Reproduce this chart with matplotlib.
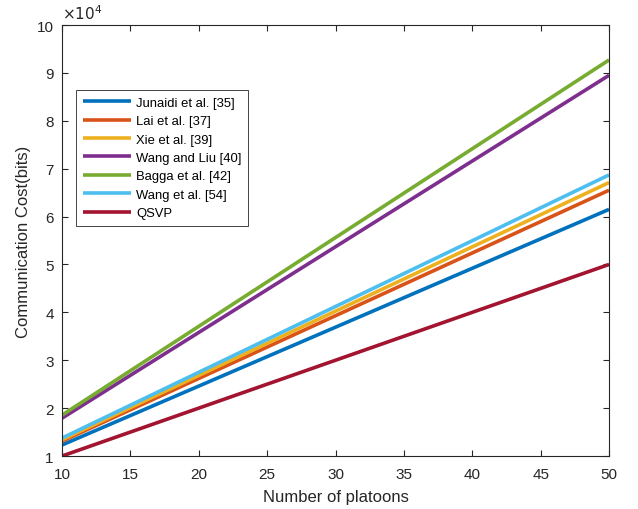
import numpy as np
import matplotlib.pyplot as plt

plt.rcParams['font.family'] = ['Liberation Sans', 'DejaVu Sans']

# number of platoons at the two ends of each (linear) cost curve
platoons = [10, 50]

junaidi = [12300, 61500]
lai = [13100, 65500]
xie = [13400, 67100]
wang_liu = [17900, 89500]
bagga = [18540, 92700]
wang = [13740, 68700]
qsvp = [10000, 50000]

labels = ['Junaidi et al. [35]', 'Lai et al. [37]', 'Xie et al. [39]',
          'Wang and Liu [40]', 'Bagga et al. [42]', 'Wang et al. [54]', 'QSVP']
series = [junaidi, lai, xie, wang_liu, bagga, wang, qsvp]
colors = [(0, 0.447, 0.741), (0.85, 0.325, 0.098), (0.929, 0.694, 0.125),
          (0.494, 0.184, 0.556), (0.466, 0.674, 0.188), (0.301, 0.745, 0.933),
          (0.635, 0.078, 0.184)]

fig = plt.figure(figsize=(6.38, 5.10), dpi=100)
ax = fig.add_axes([0.0972, 0.1039, 0.8574, 0.8451])

for y, lab, c in zip(series, labels, colors):
    ax.plot(platoons, y, color=c, lw=2.6, label=lab, solid_capstyle='butt')

ax.set_xlim(10, 50)
ax.set_ylim(1e4, 1e5)
ax.set_xticks(np.arange(10, 51, 5))
yt = np.arange(1, 11) * 1e4
ax.set_yticks(yt)
ax.set_yticklabels([str(int(v / 1e4)) for v in yt])

dark = (0.15, 0.15, 0.15)
for s in ax.spines.values():
    s.set_color(dark)
    s.set_linewidth(0.8)
ax.tick_params(direction='in', top=True, right=True, length=4.5, width=0.8,
               colors=dark, labelsize=11)
ax.tick_params(axis='x', pad=8)
ax.tick_params(axis='y', pad=6)
ax.text(0.0, 1.008, r'$\times10^{4}$', transform=ax.transAxes,
        fontsize=11, color=dark, va='bottom', ha='left')

ax.set_xlabel('Number of platoons', fontsize=12, color=dark, labelpad=6)
ax.set_ylabel('Communication Cost(bits)', fontsize=12, color=dark)

leg = ax.legend(loc='upper left', bbox_to_anchor=(0.0256, 0.849), fontsize=9.4,
                fancybox=False, framealpha=1, handlelength=3.7,
                borderaxespad=0, labelspacing=0.48, handletextpad=0.4,
                borderpad=0.5)
leg.get_frame().set_edgecolor(dark)
leg.get_frame().set_linewidth(0.6)

fig.savefig('out.png', dpi=100)
